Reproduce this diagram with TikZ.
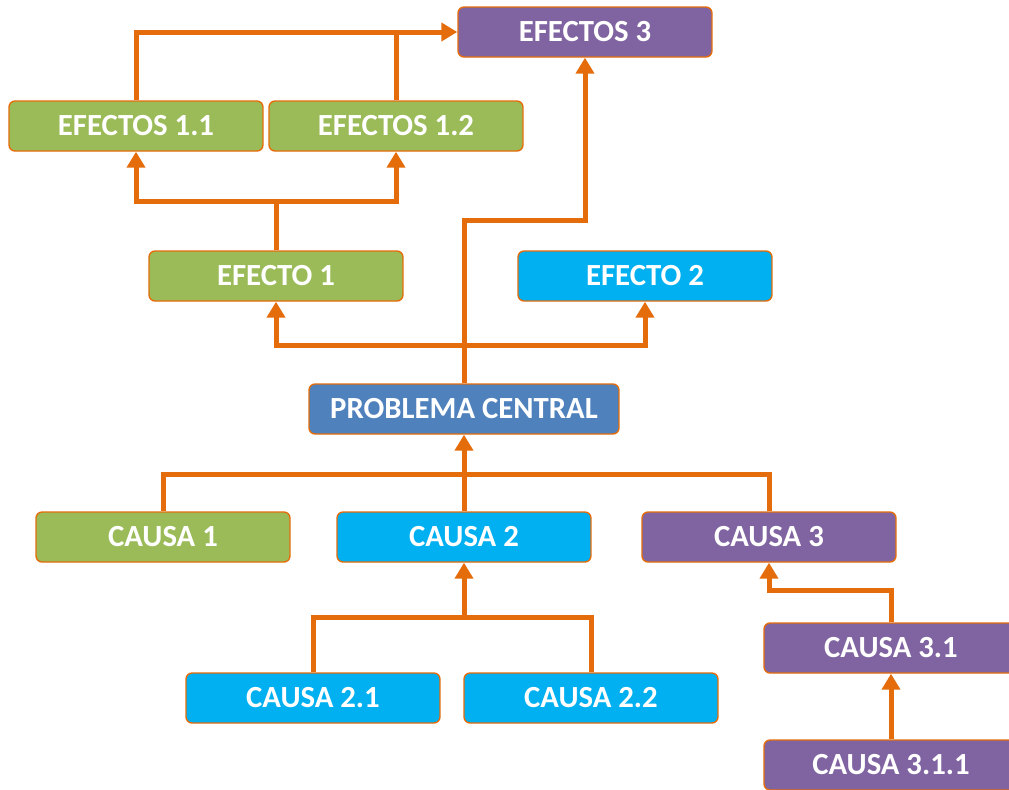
\documentclass[tikz,border=0pt]{standalone}
\usepackage{fontspec}
\setmainfont{Carlito}
\usepackage{xcolor}
\usetikzlibrary{
    arrows.meta,
    calc,
    positioning
}
\definecolor{verde}{HTML}{9BBB59}
\definecolor{celeste}{HTML}{00B0F0}
\definecolor{morado}{HTML}{8064A2}
\definecolor{azul}{HTML}{4F81BD}
\definecolor{naranja}{HTML}{E46C0A}
\tikzset{
    caja/.style={draw=naranja, line width=0.8pt, rounded corners=0.12cm,
        minimum width=5.08cm, minimum height=1cm, text=white,
        font=\fontsize{17.5}{20}\selectfont\bfseries},
    linea/.style={draw=naranja, line width=0.1cm},
    flecha/.style={linea, -{Triangle[width=0.36cm,length=0.32cm]}}
}

\begin{document}
\begin{tikzpicture}[x=0.02cm, y=-0.02cm]
                        \useasboundingbox (0,0) rectangle (1009,789);
                        \node[caja, fill=morado] (e3) at (585, 32) {EFECTOS 3};
                        \node[caja, fill=verde] (e11) at (136, 126) {EFECTOS 1.1};
                        \node[caja, fill=verde] (e12) at (396, 126) {EFECTOS 1.2};
                        \node[caja, fill=verde] (e1) at (276, 276) {EFECTO 1};
                        \node[caja, fill=celeste] (e2) at (645, 276) {EFECTO 2};
                        \node[caja, fill=azul, minimum width=6.2cm] (pc) at (464, 409) {PROBLEMA CENTRAL};
                        \node[caja, fill=verde] (c1) at (163, 537) {CAUSA 1};
                        \node[caja, fill=celeste] (c2) at (464, 537) {CAUSA 2};
                        \node[caja, fill=morado] (c3) at (769, 537) {CAUSA 3};
                        \node[caja, fill=celeste] (c21) at (313, 698) {CAUSA 2.1};
                        \node[caja, fill=celeste] (c22) at (591, 698) {CAUSA 2.2};
                        \node[caja, fill=morado] (c31) at (891, 648) {CAUSA 3.1};
                        \node[caja, fill=morado] (c311) at (891, 765) {CAUSA 3.1.1};

                        \coordinate (j1) at (276, 201);
                        \coordinate (j2) at (464, 345);
                        \coordinate (j3) at (464, 220);
                        \coordinate (j4) at (464, 474);
                        \coordinate (j5) at (464, 617);
                        \coordinate (j6) at (891, 590);

                        % efectos
                        \draw[flecha] (e11.north) |- (e3.west);
                        \draw[linea] (e12.north) -- (e12.north |- e3.west);
                        \draw[flecha] (e1.north) -- (j1) -| (e11.south);
                        \draw[flecha] (j1) -| (e12.south);
                        \draw[flecha] (pc.north) -- (j2) -| (e1.south);
                        \draw[flecha] (j2) -| (e2.south);
                        \draw[flecha] (j2) -- (j3) -| (e3.south);

                        % causas
                        \draw[linea] (c1.north) |- (j4) -| (c3.north);
                        \draw[flecha] (c2.north) -- (pc.south);
                        \draw[linea] (c21.north) |- (j5) -| (c22.north);
                        \draw[flecha] (j5) -- (c2.south);
                        \draw[flecha] (c31.north) -- (j6) -| (c3.south);
                        \draw[flecha] (c311.north) -- (c31.south);
                    \end{tikzpicture}
\end{document}
